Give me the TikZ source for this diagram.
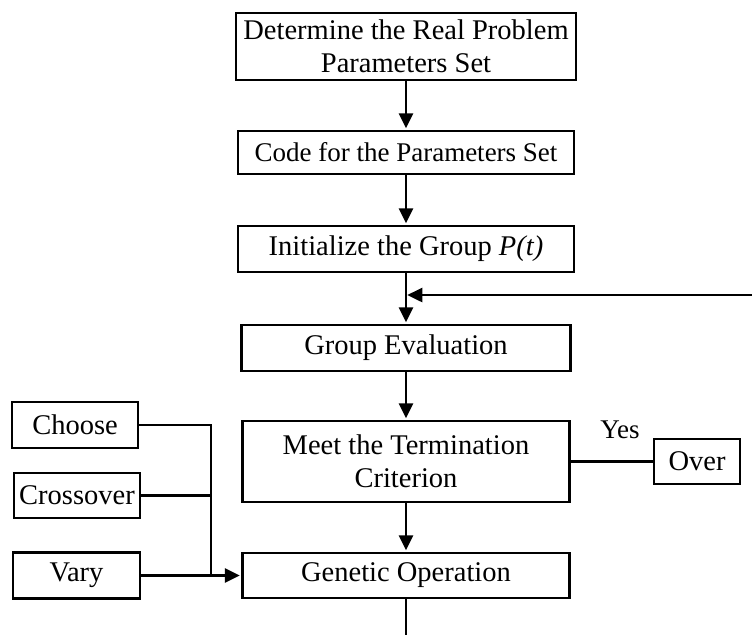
\documentclass[tikz,border=0pt]{standalone}
\usepackage{fontspec}
\setmainfont{Liberation Serif}
\usetikzlibrary{arrows.meta,calc,positioning}

\begin{document}
\begin{tikzpicture}[x=1pt,y=-1pt,>={Triangle[length=15pt,width=14pt]},line width=2.7pt,
		box/.style={draw,inner sep=0pt,align=center,font=\fontsize{28.5}{33}\selectfont},
		lbl/.style={font=\fontsize{27}{30}\selectfont}]
		\useasboundingbox (0,0) rectangle (752,635);
		% main column
		\node[box,minimum width=340pt,minimum height=67pt] (det) at (406,46.5) {Determine the Real Problem\\Parameters Set};
		\node[box,minimum width=336pt,minimum height=43pt,font=\fontsize{27}{31}\selectfont] (code) at (406,152.5) {Code for the Parameters Set};
		\node[box,minimum width=336pt,minimum height=46pt] (init) at (406,249) {Initialize the Group \textit{P(t)}};
		\node[box,minimum width=329pt,minimum height=46pt] (eval) at (406,348) {Group Evaluation};
		\node[box,minimum width=327pt,minimum height=81pt] (meet) at (406,461.5) {Meet the Termination\\Criterion};
		\node[box,minimum width=327pt,minimum height=45pt] (gen) at (406,575.5) {Genetic Operation};
		\node[box,minimum width=86pt,minimum height=45pt] (over) at (697,461.5) {Over};
		\node[lbl] (yes) at (620,430) {Yes};
		% operators
		\node[box,minimum width=126pt,minimum height=46pt] (choose) at (75,425) {Choose};
		\node[box,minimum width=126pt,minimum height=45pt] (cross) at (77,495.5) {Crossover};
		\node[box,minimum width=127pt,minimum height=46pt] (vary) at (76.5,575.5) {Vary};
		\coordinate (join) at (211,575.5);
		\coordinate (back) at (752,295);
		\coordinate (down) at (406,635);
		\path[->,shorten >=1.3pt]
			(det) edge (code)
			(code) edge (init)
			(init) edge (eval)
			(eval) edge (meet)
			(meet) edge (gen)
			(vary) edge (gen);
		\draw[->,shorten >=1.3pt] (back) -- (back -| init.south);
		\draw (meet) -- (over);
		\draw (choose.east) -| (join);
		\draw (cross.east) -- (cross.east -| join);
		\draw (gen) -- (down);
	\end{tikzpicture}
\end{document}
